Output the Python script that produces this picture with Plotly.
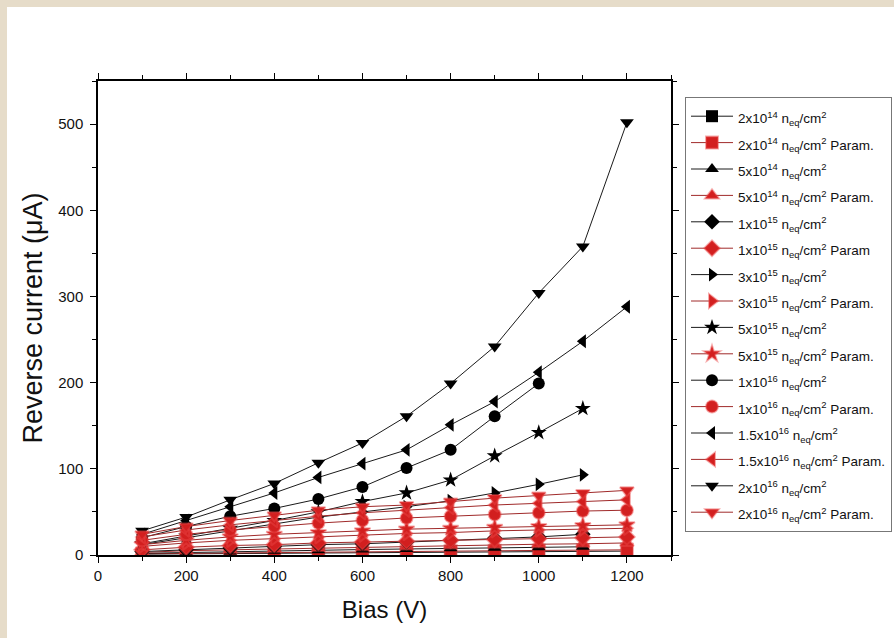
import plotly.graph_objects as go

bias = [100, 200, 300, 400, 500, 600, 700, 800, 900, 1000, 1100, 1200]

labels = ["2x10<sup>14</sup>", "5x10<sup>14</sup>", "1x10<sup>15</sup>", "3x10<sup>15</sup>",
          "5x10<sup>15</sup>", "1x10<sup>16</sup>", "1.5x10<sup>16</sup>", "2x10<sup>16</sup>"]
param_suffix = [" Param.", " Param.", " Param", " Param.", " Param.", " Param.", " Param.", " Param."]
symbols = ["square", "triangle-up", "diamond", "triangle-right", "star", "circle", "triangle-left", "triangle-down"]

# measured (black)
m_2e14 = [1.0, 1.4, 1.8, 2.1, 2.4, 2.7, 3.0, 3.3, 3.6, 3.9, 4.2, 4.5]
m_5e14 = [2.0, 3.0, 4.0, 5.0, 5.6, 6.3, 7.0, 7.7, 8.4, 9.0, 9.5]
m_1e15 = [4, 6, 8, 10, 12, 13, 15, 17, 19.5, 21, 24]
m_3e15 = [12, 20, 28, 36, 44, 50, 56, 63, 72, 82, 93]
m_5e15 = [13, 22, 31, 40, 50, 62, 72, 87, 115, 142, 170]
m_1e16 = [20, 33, 45, 54, 65, 79, 101, 122, 161, 199]
m_15e16 = [24, 40, 56, 72, 90, 106, 122, 151, 178, 212, 248, 288]
m_2e16 = [28, 44, 64, 83, 107, 130, 161, 199, 242, 304, 358, 502]

# parametrisation (red)
p_2e14 = [1.5, 2.0, 2.5, 3.0, 3.5, 4.0, 4.3, 4.6, 5.0, 5.3, 5.6, 6.0]
p_5e14 = [3, 5, 6, 7, 8, 9, 10, 11, 12, 12.5, 13, 14]
p_1e15 = [6, 9, 11, 12, 14, 15, 16, 17, 18, 19, 20, 21]
p_3e15 = [10, 14, 17, 19, 21, 23, 25, 26, 28, 29, 30, 31]
p_5e15 = [12, 17, 21, 24, 26, 28, 30, 31, 32, 33, 34, 35]
p_1e16 = [17, 24, 29, 33, 37, 40, 43, 45, 47, 49, 51, 52]
p_15e16 = [21, 29, 35, 40, 45, 49, 52, 55, 58, 60, 62, 64]
p_2e16 = [24, 33, 40, 46, 52, 56, 58, 62, 66, 69, 72, 75]

measured = [m_2e14, m_5e14, m_1e15, m_3e15, m_5e15, m_1e16, m_15e16, m_2e16]
params = [p_2e14, p_5e14, p_1e15, p_3e15, p_5e15, p_1e16, p_15e16, p_2e16]

FONT = "Liberation Sans, Arial, sans-serif"
RED = "#d21f1f"


def leg(text):
    return '<span style="font-size:13.5px">' + text + '</span>'


fig = go.Figure()
for lab, suf, sym, m, p in zip(labels, param_suffix, symbols, measured, params):
    fig.add_trace(go.Scatter(
        x=bias[:len(m)], y=m, mode="lines+markers",
        name=leg(lab + " n<sub>eq</sub>/cm<sup>2</sup>"),
        line=dict(color="#1a1a1a", width=1),
        marker=dict(symbol=sym, size=12, color="#000000", line=dict(width=0)),
    ))
    fig.add_trace(go.Scatter(
        x=bias[:len(p)], y=p, mode="lines+markers",
        name=leg(lab + " n<sub>eq</sub>/cm<sup>2</sup>" + suf),
        line=dict(color="#a02a2a", width=1),
        marker=dict(symbol=sym, size=12, color=RED, line=dict(color="rgba(235,70,70,0.45)", width=2)),
    ))

# plot area: x 98..671, y 81..555 px
L, T, R, B = 98, 81, 671, 555
W, H = 894, 638
pw, ph = R - L, B - T


def px(x):
    return (x - L) / pw


def py(y):
    return (B - y) / ph


fig.add_shape(type="rect", xref="paper", yref="paper",
              x0=px(7), x1=px(W + 5), y0=py(H + 5), y1=py(7),
              fillcolor="white", line=dict(width=0), layer="below")

axis_common = dict(
    showline=True, linecolor="black", linewidth=1.5, mirror="ticks",
    ticks="outside", ticklen=6, tickwidth=1.3, tickcolor="black",
    showgrid=False, zeroline=False,
    tickfont=dict(family=FONT, size=15, color="#111"),
)

fig.update_xaxes(range=[0, 1300], dtick=200, tick0=0,
                 minor=dict(ticks="outside", dtick=100, ticklen=4, tickcolor="black", tickwidth=1.2),
                 title=dict(text="Bias (V)", font=dict(family=FONT, size=24, color="#111"), standoff=18),
                 **axis_common)
fig.update_yaxes(range=[0, 550], dtick=100, tick0=0, ticklabelstandoff=4,
                 minor=dict(ticks="outside", dtick=50, ticklen=4, tickcolor="black", tickwidth=1.2),
                 title=dict(text="Reverse current (μA)", font=dict(family=FONT, size=27, color="#111"), standoff=8),
                 **axis_common)

fig.update_layout(
    width=W, height=H,
    margin=dict(l=L, r=W - R, t=T, b=H - B, autoexpand=False),
    paper_bgcolor="#e6dcc9",
    plot_bgcolor="white",
    font=dict(family=FONT, color="#111"),
    legend=dict(
        x=px(685), y=py(97), xanchor="left", yanchor="top",
        bgcolor="white", bordercolor="#777", borderwidth=1,
        font=dict(family=FONT, size=18, color="#111"),
        itemwidth=42, tracegroupgap=0,
    ),
)

fig.write_html("out.html")
